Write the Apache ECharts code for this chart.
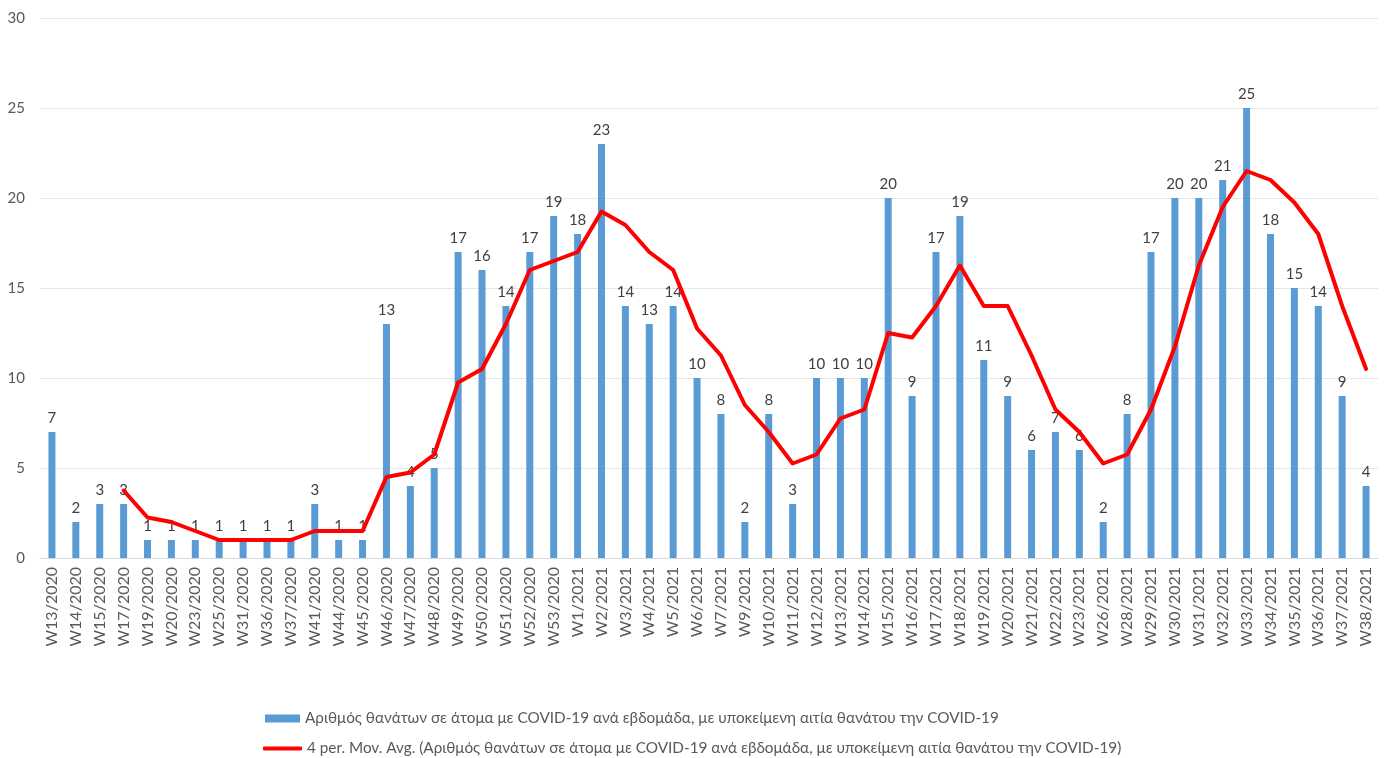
<!DOCTYPE html>
<html style="height: 100%">
<head>
    <meta charset="utf-8">
    <script src="https://cdn.jsdelivr.net/npm/echarts@6/dist/echarts.min.js"></script>
</head>
<body style="height: 100%; margin: 0; background: #fff">
    <div id="chart" style="width: 1384px; height: 758px"></div>
    <script type="text/javascript">
        var weeks = ['W13/2020', 'W14/2020', 'W15/2020', 'W17/2020', 'W19/2020', 'W20/2020', 'W23/2020',
            'W25/2020', 'W31/2020', 'W36/2020', 'W37/2020', 'W41/2020', 'W44/2020', 'W45/2020', 'W46/2020',
            'W47/2020', 'W48/2020', 'W49/2020', 'W50/2020', 'W51/2020', 'W52/2020', 'W53/2020', 'W1/2021',
            'W2/2021', 'W3/2021', 'W4/2021', 'W5/2021', 'W6/2021', 'W7/2021', 'W9/2021', 'W10/2021',
            'W11/2021', 'W12/2021', 'W13/2021', 'W14/2021', 'W15/2021', 'W16/2021', 'W17/2021', 'W18/2021',
            'W19/2021', 'W20/2021', 'W21/2021', 'W22/2021', 'W23/2021', 'W26/2021', 'W28/2021', 'W29/2021',
            'W30/2021', 'W31/2021', 'W32/2021', 'W33/2021', 'W34/2021', 'W35/2021', 'W36/2021', 'W37/2021',
            'W38/2021'];
        var deaths = [7, 2, 3, 3, 1, 1, 1, 1, 1, 1, 1, 3, 1, 1, 13, 4, 5, 17, 16, 14, 17, 19, 18, 23, 14, 13,
            14, 10, 8, 2, 8, 3, 10, 10, 10, 20, 9, 17, 19, 11, 9, 6, 7, 6, 2, 8, 17, 20, 20, 21, 25, 18, 15,
            14, 9, 4];
        // 4 period moving average as plotted
        var movAvg = [null, null, null, 3.75, 2.25, 2, 1.5, 1, 1, 1, 1, 1.5, 1.5, 1.5, 4.5, 4.75, 5.75,
            9.75, 10.5, 13, 16, 16.5, 17, 19.25, 18.5, 17, 16, 12.75, 11.25, 8.5, 7, 5.25, 5.75, 7.75, 8.25,
            12.5, 12.25, 14, 16.25, 14, 14, 11.25, 8.25, 7, 5.25, 5.75, 8.25, 11.75, 16.25, 19.5, 21.5, 21,
            19.75, 18, 14, 10.5];
        var barName = 'Αριθμός θανάτων σε άτομα με COVID-19 ανά εβδομάδα, με υποκείμενη αιτία θανάτου την COVID-19';
        var lineName = '4 per. Mov. Avg. (Αριθμός θανάτων σε άτομα με COVID-19 ανά εβδομάδα, με υποκείμενη αιτία θανάτου την COVID-19)';

        var font = 'Lato, "Noto Sans", sans-serif';
        var legendText = { fontSize: 15.3, color: '#595959', fontFamily: font };
        var myChart = echarts.init(document.getElementById('chart'));
        myChart.setOption({
            animation: false,
            textStyle: { fontFamily: font },
            grid: { left: 40, right: 6, top: 18, bottom: 200 },
            legend: [
                {
                    left: 265,
                    top: 711,
                    padding: 0,
                    itemWidth: 35,
                    itemHeight: 8,
                    textStyle: legendText,
                    data: [{ name: barName, icon: 'rect' }]
                },
                {
                    left: 263,
                    top: 741,
                    padding: 0,
                    itemWidth: 39,
                    itemHeight: 4,
                    textStyle: legendText,
                    data: [{ name: lineName, icon: 'roundRect', itemStyle: { color: '#FF0000' } }]
                }
            ],
            xAxis: {
                type: 'category',
                data: weeks,
                axisLine: { lineStyle: { color: '#D9D9D9' } },
                axisTick: { show: false },
                axisLabel: {
                    rotate: 90,
                    interval: 0,
                    margin: 9,
                    fontSize: 16,
                    color: '#595959',
                    fontFamily: font
                }
            },
            yAxis: {
                type: 'value',
                min: 0,
                max: 30,
                interval: 5,
                axisLine: { show: false },
                axisTick: { show: false },
                axisLabel: { fontSize: 15, color: '#595959', margin: 15, fontFamily: font },
                splitLine: { lineStyle: { color: '#E6E6E6' } }
            },
            series: [
                {
                    name: barName,
                    type: 'bar',
                    data: deaths,
                    barWidth: 7,
                    itemStyle: { color: '#5B9BD5' },
                    label: {
                        show: true,
                        position: 'top',
                        distance: 6,
                        fontSize: 15,
                        color: '#404040',
                        fontFamily: font
                    }
                },
                {
                    name: lineName,
                    type: 'line',
                    data: movAvg,
                    showSymbol: false,
                    symbol: 'none',
                    lineStyle: { color: '#FF0000', width: 4, join: 'round', cap: 'round' },
                    itemStyle: { color: '#FF0000' },
                    z: 3
                }
            ]
        });
    </script>
</body>
</html>
